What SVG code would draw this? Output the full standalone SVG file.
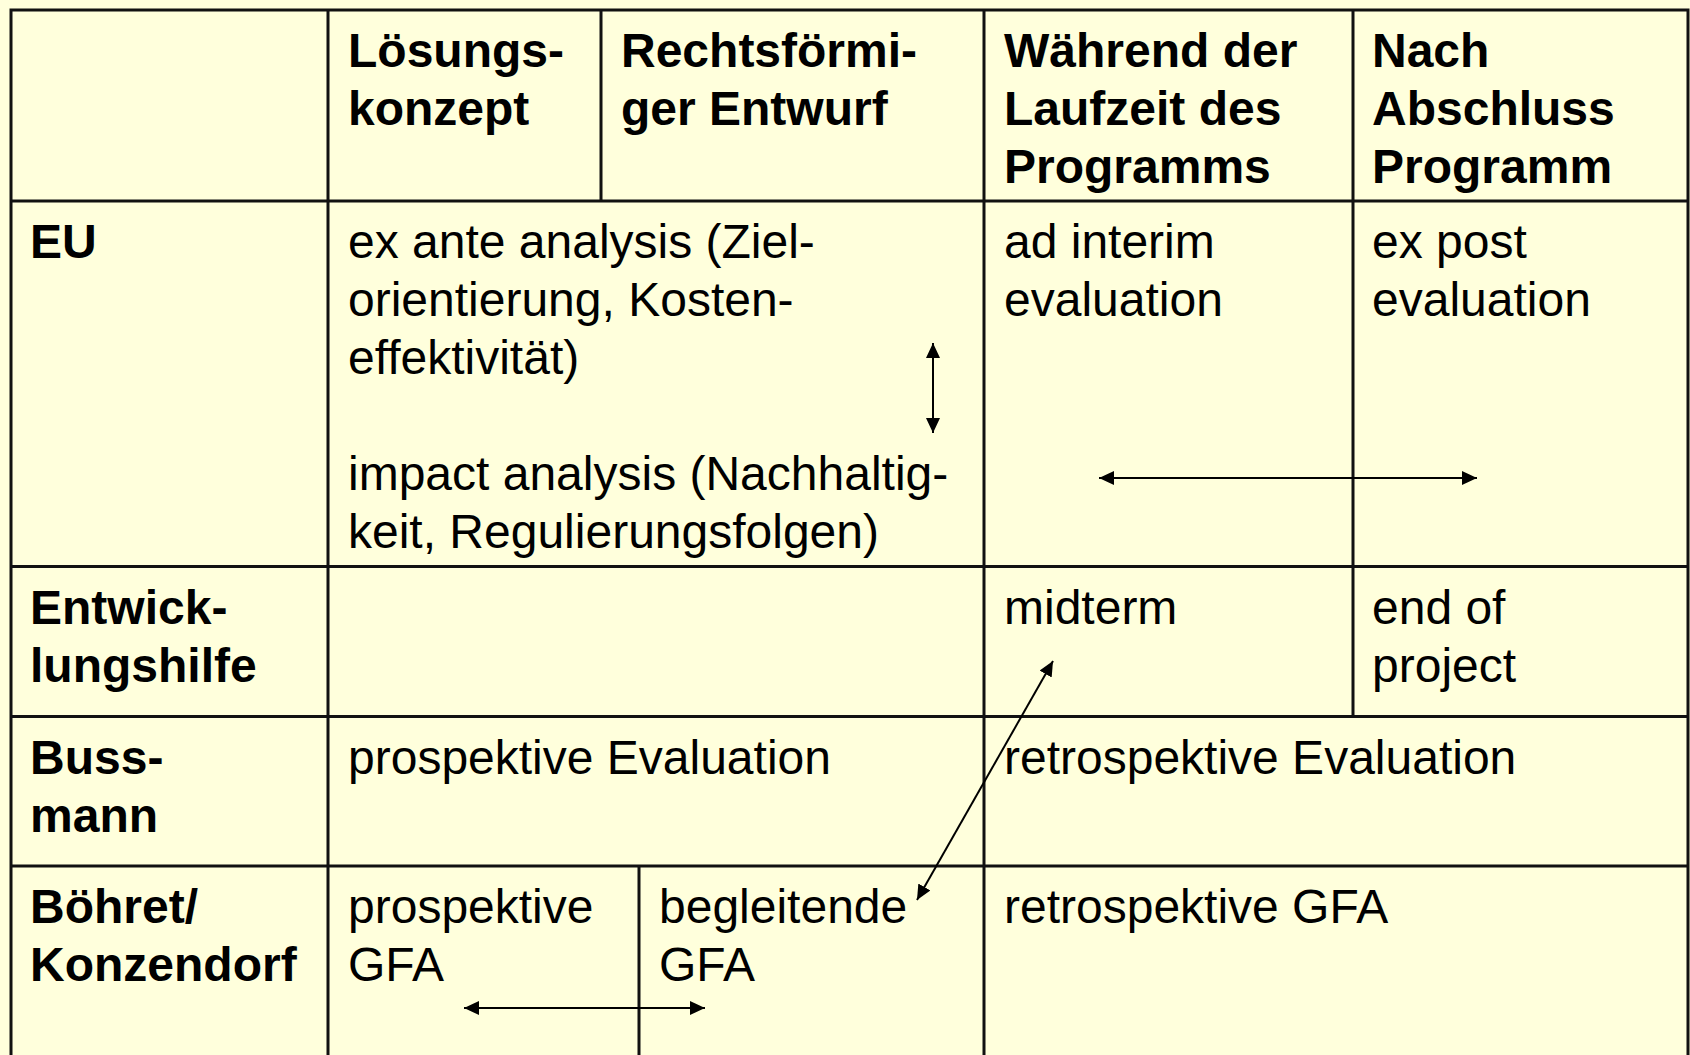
<svg xmlns="http://www.w3.org/2000/svg" width="1690" height="1055" viewBox="0 0 1690 1055">
  <style>
    .grid { stroke: #111; stroke-width: 3; fill: none; }
    .t { font-family: "Liberation Sans", Arial, sans-serif; font-size: 48px; fill: #000; }
    .b { font-weight: bold; }
    .arr { stroke: #000; stroke-width: 2; fill: none; marker-start: url(#ah); marker-end: url(#ah); }
  </style>
  <defs>
    <marker id="ah" markerUnits="userSpaceOnUse" markerWidth="16" markerHeight="14" refX="15" refY="7" orient="auto-start-reverse">
      <path d="M0,0 L15,7 L0,14 Z" fill="#000"/>
    </marker>
  </defs>
  <rect x="0" y="0" width="1690" height="1055" fill="#FFFFDC"/>

  <g id="grid">
    <path class="grid" d="M11,1055 V10 H1688 V1055"/>
    <path class="grid" d="M11,201 H1688 M11,566.5 H1688 M11,716.5 H1688 M11,866 H1688"/>
    <path class="grid" d="M328,10 V1055 M984,10 V1055 M601,10 V201 M1353,10 V716.5 M639,866 V1055"/>
  </g>

  <g id="header">
    <g id="h-loesungskonzept"><text class="t b" x="348" y="67">Lösungs-</text><text class="t b" x="348" y="125">konzept</text></g>
    <g id="h-entwurf"><text class="t b" x="621" y="67">Rechtsförmi-</text><text class="t b" x="621" y="125">ger Entwurf</text></g>
    <g id="h-waehrend"><text class="t b" x="1004" y="67">Während der</text><text class="t b" x="1004" y="125">Laufzeit des</text><text class="t b" x="1004" y="183">Programms</text></g>
    <g id="h-nach"><text class="t b" x="1372" y="67">Nach</text><text class="t b" x="1372" y="125">Abschluss</text><text class="t b" x="1372" y="183">Programm</text></g>
  </g>

  <g id="row-eu">
    <g id="eu-label"><text class="t b" x="30" y="258">EU</text></g>
    <g id="eu-exante"><text class="t" x="348" y="258">ex ante analysis (Ziel-</text><text class="t" x="348" y="316">orientierung, Kosten-</text><text class="t" x="348" y="374">effektivität)</text><text class="t" x="348" y="490">impact analysis (Nachhaltig-</text><text class="t" x="348" y="548">keit, Regulierungsfolgen)</text></g>
    <g id="eu-interim"><text class="t" x="1004" y="258">ad interim</text><text class="t" x="1004" y="316">evaluation</text></g>
    <g id="eu-expost"><text class="t" x="1372" y="258">ex post</text><text class="t" x="1372" y="316">evaluation</text></g>
  </g>

  <g id="row-entwicklungshilfe">
    <g id="ew-label"><text class="t b" x="30" y="624">Entwick-</text><text class="t b" x="30" y="682">lungshilfe</text></g>
    <g id="ew-midterm"><text class="t" x="1004" y="624">midterm</text></g>
    <g id="ew-end"><text class="t" x="1372" y="624">end of</text><text class="t" x="1372" y="682">project</text></g>
  </g>

  <g id="row-bussmann">
    <g id="bu-label"><text class="t b" x="30" y="774">Buss-</text><text class="t b" x="30" y="832">mann</text></g>
    <g id="bu-prosp"><text class="t" x="348" y="774">prospektive Evaluation</text></g>
    <g id="bu-retro"><text class="t" x="1004" y="774">retrospektive Evaluation</text></g>
  </g>

  <g id="row-boehret">
    <g id="bo-label"><text class="t b" x="30" y="923">Böhret/</text><text class="t b" x="30" y="981">Konzendorf</text></g>
    <g id="bo-prosp"><text class="t" x="348" y="923">prospektive</text><text class="t" x="348" y="981">GFA</text></g>
    <g id="bo-begl"><text class="t" x="659" y="923">begleitende</text><text class="t" x="659" y="981">GFA</text></g>
    <g id="bo-retro"><text class="t" x="1004" y="923">retrospektive GFA</text></g>
  </g>

  <g id="connectors">
    <line class="arr" x1="933" y1="343" x2="933" y2="433" stroke-width="1.5"/>
    <line class="arr" x1="1099" y1="478" x2="1477" y2="478"/>
    <line class="arr" x1="464" y1="1008" x2="705" y2="1008"/>
    <line class="arr" x1="1053" y1="661" x2="917" y2="900"/>
  </g>
</svg>
